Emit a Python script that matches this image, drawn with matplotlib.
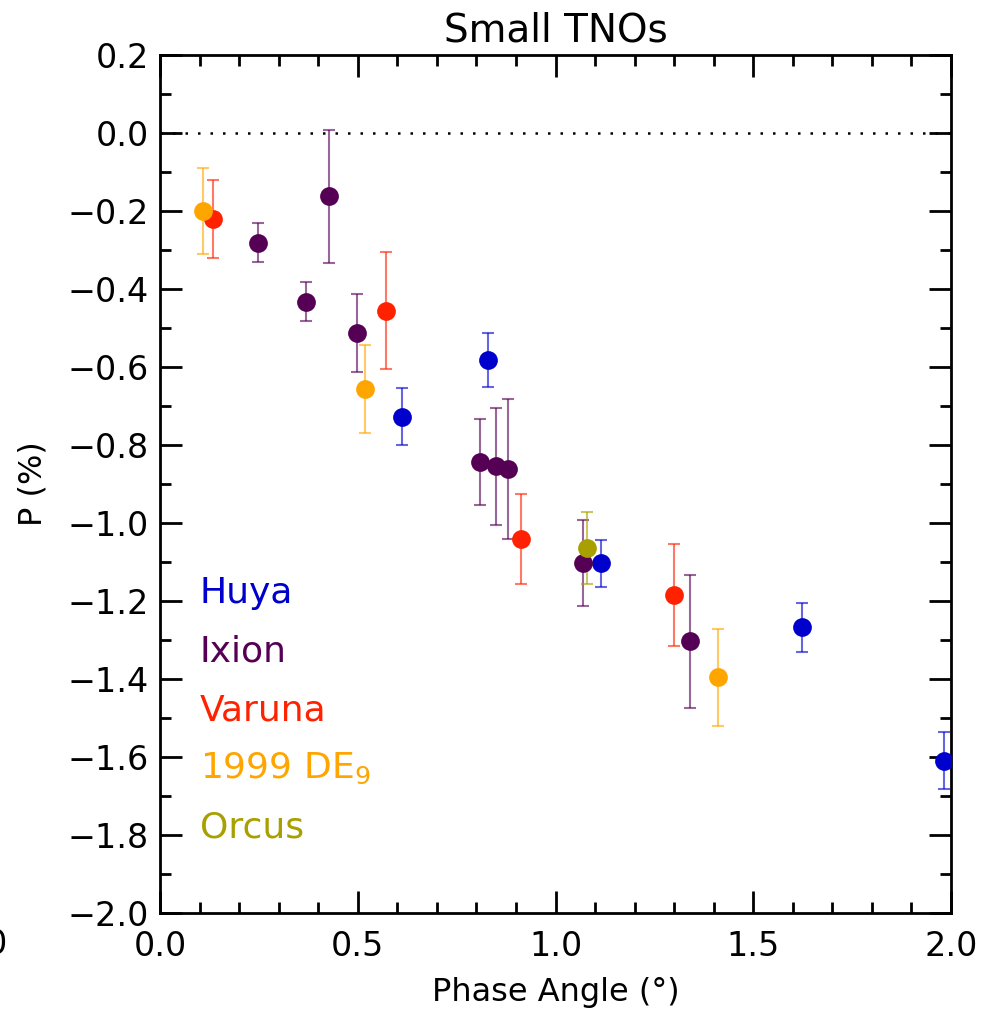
import numpy as np
from matplotlib import pyplot as plt
from matplotlib.ticker import MultipleLocator, FuncFormatter

# Polarization data: phase angle (deg), P (%), error (%)
huya_x = [0.613, 0.829, 1.115, 1.624, 1.983]
huya_p = [-0.727, -0.582, -1.103, -1.267, -1.609]
huya_e = [0.073, 0.070, 0.060, 0.063, 0.073]

ixion_x = [0.249, 0.368, 0.428, 0.499, 0.809, 0.850, 0.879, 1.070, 1.340]
ixion_p = [-0.281, -0.432, -0.162, -0.512, -0.844, -0.854, -0.862, -1.103, -1.303]
ixion_e = [0.050, 0.050, 0.170, 0.100, 0.110, 0.150, 0.180, 0.110, 0.170]

varuna_x = [0.133, 0.571, 0.914, 1.300]
varuna_p = [-0.221, -0.456, -1.041, -1.185]
varuna_e = [0.100, 0.150, 0.115, 0.130]

de9_x = [0.108, 0.518, 1.412]
de9_p = [-0.200, -0.656, -1.396]
de9_e = [0.110, 0.112, 0.125]

orcus_x = [1.079]
orcus_p = [-1.064]
orcus_e = [0.092]

names = ['Huya', 'Ixion', 'Varuna', '1999 DE$_9$', 'Orcus']
colors = ['#0000cc', '#550055', '#ff2200', '#ffa500', '#a8a000']

series = [
    (huya_x, huya_p, huya_e),
    (ixion_x, ixion_p, ixion_e),
    (varuna_x, varuna_p, varuna_e),
    (de9_x, de9_p, de9_e),
    (orcus_x, orcus_p, orcus_e),
]

fig = plt.figure(figsize=(9.95, 10.1), dpi=100)
ax = fig.add_axes([0.1608, 0.0960, 0.7950, 0.8495])

# zero-polarization reference line
ax.axhline(0.0, color='black', linestyle=(0, (1, 4)), linewidth=1.8, zorder=1)

for (x, p, e), c in zip(series, colors):
    ax.errorbar(x, p, yerr=e, fmt='none', ecolor=c, elinewidth=1.5,
                capsize=4, capthick=1.5, alpha=0.6, zorder=2)
    ax.plot(x, p, 'o', color=c, markersize=13.5, markeredgewidth=0, zorder=3)

# object labels in the lower left
label_y = [-1.18, -1.33, -1.48, -1.63, -1.78]
for name, c, yy in zip(names, colors, label_y):
    ax.text(0.10, yy, name, color=c, fontsize=26, ha='left', va='center')


def fmt(v, pos):
    return f'{v:.1f}'.replace('-', '\u2212')


ax.set_xlim(0.0, 2.0)
ax.set_ylim(-2.0, 0.2)
ax.xaxis.set_major_locator(MultipleLocator(0.5))
ax.xaxis.set_minor_locator(MultipleLocator(0.1))
ax.yaxis.set_major_locator(MultipleLocator(0.2))
ax.yaxis.set_minor_locator(MultipleLocator(0.1))
ax.xaxis.set_major_formatter(FuncFormatter(fmt))
ax.yaxis.set_major_formatter(FuncFormatter(fmt))

ax.tick_params(which='both', direction='in', top=True, right=True,
               labelsize=24, width=2)
ax.tick_params(which='major', length=16)
ax.tick_params(which='minor', length=8)
ax.tick_params(axis='x', pad=12)
ax.tick_params(axis='y', pad=8)
for s in ax.spines.values():
    s.set_linewidth(2)

ax.set_title('Small TNOs', fontsize=28, pad=10)
ax.set_xlabel('Phase Angle (°)', fontsize=23, labelpad=10)
ax.set_ylabel('P (%)', fontsize=23, labelpad=14)

# leftover tick label from a neighbouring panel, cut at the figure edge
fig.text(8 / 995, 1 - 945 / 1010, '2.0', fontsize=24, ha='right', va='center')

fig.savefig('out.png', dpi=100)
